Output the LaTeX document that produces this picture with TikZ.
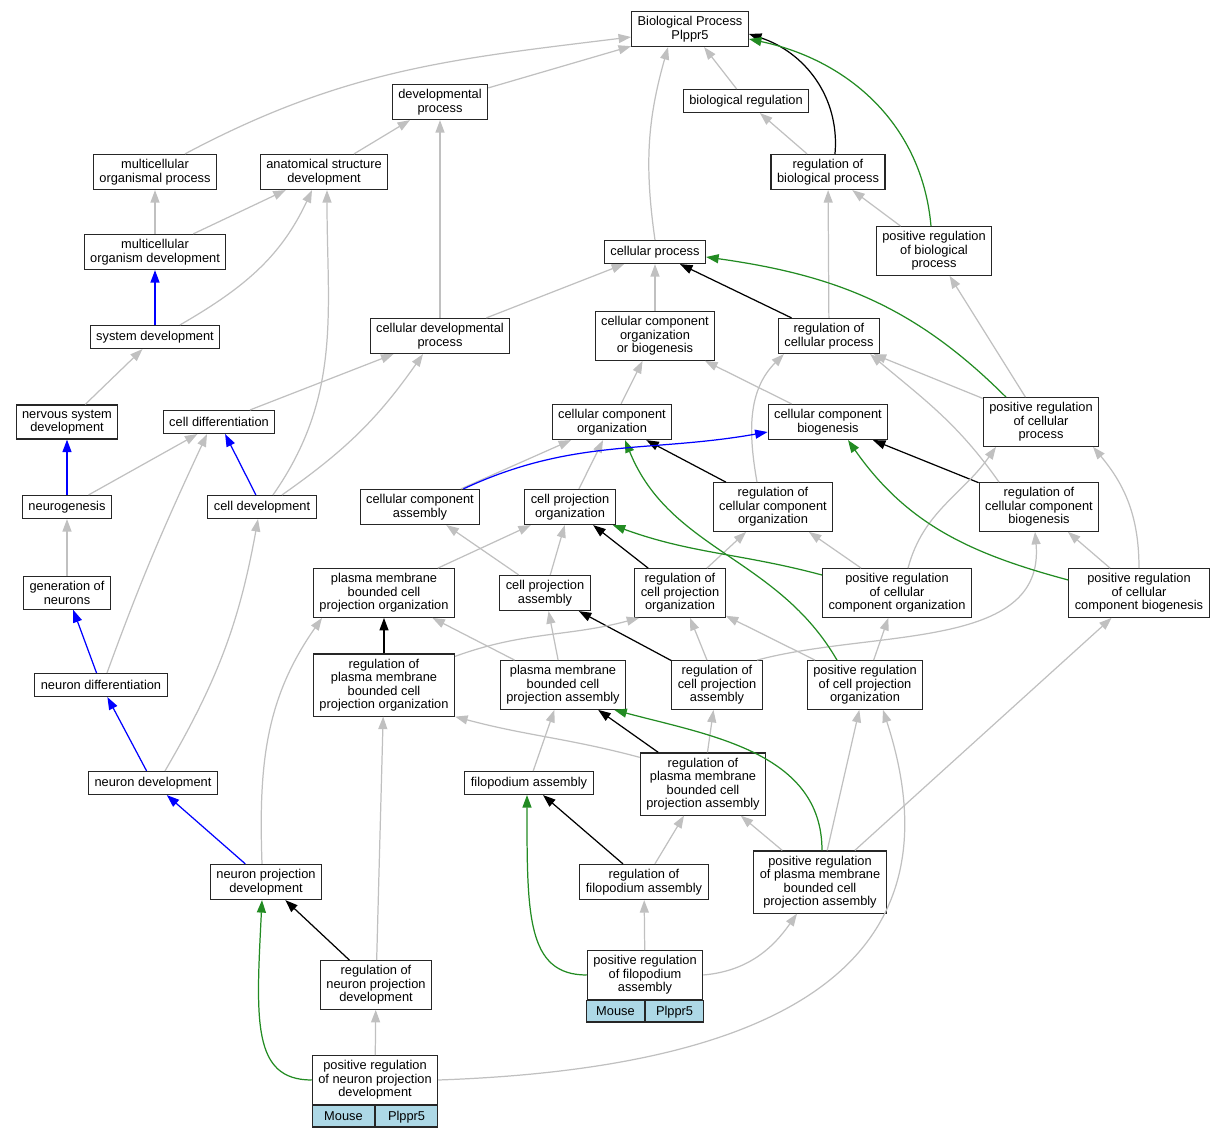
\documentclass[tikz,border=0pt]{standalone}
\usepackage{fontspec}
\setmainfont{Liberation Sans}
\usetikzlibrary{arrows.meta}
\definecolor{edgegray}{RGB}{192,192,192}
\definecolor{posgreen}{RGB}{34,139,34}
\definecolor{genefill}{RGB}{173,216,230}
\newcommand{\nodefont}{\fontsize{7.3}{7.7}\selectfont}

\begin{document}
\begin{tikzpicture}
		[x=0.02cm,y=0.02cm,every node/.style={rectangle,draw=black!85,line width=0.65pt,fill=white,align=center,inner xsep=0.12cm,inner ysep=0.096cm,minimum height=0.46cm,font=\nodefont},
		edge/.style={->,> = {Triangle[length=0.25cm,width=0.18cm]},line width=0.7pt},isa/.style={edge,edgegray},reg/.style={edge,black},posreg/.style={edge,posgreen},partof/.style={edge,blue},
		gene/.style={fill=genefill,minimum height=0.43cm,inner sep=0pt,text height=0.72em,text depth=0.21em}]
		\useasboundingbox (0,0) rectangle (1225,-1139);
		\node (bp) at (690,-29)  {Biological Process\\Plppr5};
		\node (dev) at (440,-102)  {developmental\\process};
		\node (breg) at (746,-101) {biological regulation};
		\node (mop) at (155,-172)  {multicellular\\organismal process};
		\node (asd) at (324,-172)  {anatomical structure\\development};
		\node (rbp) at (828,-172)  {regulation of\\biological process};
		\node (mod) at (155,-252)  {multicellular\\organism development};
		\node (cp) at (655,-252)  {cellular process};
		\node (prbp) at (934,-251)  {positive regulation\\of biological\\process};
		\node (sd) at (155,-337)  {system development};
		\node (cdp) at (440,-336)  {cellular developmental\\process};
		\node (ccob) at (655,-336)  {cellular component\\organization\\or biogenesis};
		\node (rcp) at (829,-336)  {regulation of\\cellular process};
		\node (nsd) at (67,-422)  {nervous system\\development};
		\node (cd) at (219,-422)  {cell differentiation};
		\node (ccorg) at (612,-422)  {cellular component\\organization};
		\node (ccbio) at (828,-422)  {cellular component\\biogenesis};
		\node (prcp) at (1041,-422)  {positive regulation\\of cellular\\process};
		\node (neurog) at (67,-507)  {neurogenesis};
		\node (cdev) at (262,-507)  {cell development};
		\node (cca) at (420,-507)  {cellular component\\assembly};
		\node (cpo) at (570,-507)  {cell projection\\organization};
		\node (rcco) at (773,-507)  {regulation of\\cellular component\\organization};
		\node (rccb) at (1039,-507)  {regulation of\\cellular component\\biogenesis};
		\node (gen) at (67,-593)  {generation of\\neurons};
		\node (pmo) at (384,-593)  {plasma membrane\\bounded cell\\projection organization};
		\node (cpa) at (545,-593)  {cell projection\\assembly};
		\node (rcpo) at (680,-593)  {regulation of\\cell projection\\organization};
		\node (prcco) at (897,-593)  {positive regulation\\of cellular\\component organization};
		\node (prccb) at (1139,-593)  {positive regulation\\of cellular\\component biogenesis};
		\node (ndiff) at (101,-685)  {neuron differentiation};
		\node (rpmo) at (384,-685)  {regulation of\\plasma membrane\\bounded cell\\projection organization};
		\node (pmpa) at (563,-685)  {plasma membrane\\bounded cell\\projection assembly};
		\node (rcpa) at (717,-685)  {regulation of\\cell projection\\assembly};
		\node (prcpo) at (865,-685)  {positive regulation\\of cell projection\\organization};
		\node (ndev) at (153,-783)  {neuron development};
		\node (filo) at (529,-783)  {filopodium assembly};
		\node (rpmpa) at (703,-784)  {regulation of\\plasma membrane\\bounded cell\\projection assembly};
		\node (npd) at (266,-882)  {neuron projection\\development};
		\node (rfa) at (644,-882)  {regulation of\\filopodium assembly};
		\node (prpmpa) at (820,-882)  {positive regulation\\of plasma membrane\\bounded cell\\projection assembly};
		\node (rnpd) at (376,-985)  {regulation of\\neuron projection\\development};
		\node (pfa) at (645,-975)  {positive regulation\\of filopodium\\assembly};
		\node[gene,minimum width=1.16cm,anchor=north east] (pfam) at (pfa.south) {Mouse};
		\node[gene,minimum width=1.16cm,anchor=north west] (pfag) at (pfa.south) {Plppr5};
		\node (pnpd) at (375,-1080)  {positive regulation\\of neuron projection\\development};
		\node[gene,minimum width=1.24cm,anchor=north east] (pnpdm) at (pnpd.south) {Mouse};
		\node[gene,minimum width=1.24cm,anchor=north west] (pnpdg) at (pnpd.south) {Plppr5};
		
		\foreach \from/\to in {dev/bp,breg/bp,asd/dev,cdp/dev,rbp/breg,prbp/rbp,mod/mop,mod/asd,cdp/cp,ccob/cp,rcp/rbp,prcp/prbp,
			nsd/sd,cd/cdp,ccorg/ccob,ccbio/ccob,prcp/rcp,neurog/cd,cca/ccorg,cpo/ccorg,prccb/rccb,gen/neurog,cpa/cca,pmo/cpo,cpa/cpo,
			rcpo/rcco,prcco/rcco,pmpa/pmo,pmpa/cpa,rcpa/rcpo,prcpo/rcpo,prcpo/prcco,filo/pmpa,rpmpa/rcpa,prpmpa/prcpo,prpmpa/prccb,
			rfa/rpmpa,prpmpa/rpmpa,rnpd/rpmo,pfa/rfa,pnpd/rnpd}
		\draw[isa] (\from) -- (\to);
		\foreach \from/\to in {rcp/cp,rcco/ccorg,rccb/ccbio,rpmo/pmo,rcpo/cpo,rcpa/cpa,rpmpa/pmpa,rfa/filo,rnpd/npd}
		\draw[reg] (\from) -- (\to);
		\foreach \from/\to in {sd/mod,neurog/nsd,cdev/cd,ndiff/gen,ndev/ndiff,npd/ndev}
		\draw[partof] (\from) -- (\to);
		
		% curved is_a
		\draw[isa] ([xshift=0.6cm]mop.north) to[out=28,in=187] ([yshift=-0.16cm]bp.west);
		\draw[isa] (cp.north) to[bend left=12] ([xshift=-0.44cm]bp.south);
		\draw[isa] ([xshift=0.5cm]sd.north) to[out=30,in=-115] ([xshift=-0.24cm]asd.south);
		\draw[isa] ([xshift=0.22cm]cdev.north) to[out=55,in=-90] ([xshift=0.06cm]asd.south);
		\draw[isa] ([xshift=0.4cm]cdev.north) to[bend right=10] ([xshift=-0.34cm]cdp.south);
		\draw[isa] ([xshift=-0.32cm]rcco.north) to[out=100,in=-135] ([xshift=0.12cm]rcp.south west);
		\draw[isa] ([xshift=-0.8cm]rccb.north) to[out=125,in=-40] ([xshift=-0.2cm]rcp.south east);
		\draw[isa] ([xshift=0.22cm]prcco.north) to[out=75,in=-125] ([xshift=-0.9cm]prcp.south);
		\draw[isa] (prccb.north) to[out=90,in=-50] ([xshift=1.04cm]prcp.south);
		\draw[isa] ([xshift=0.8cm]rcpa.north) to[out=15,in=-85] ([xshift=-0.08cm]rccb.south);
		\draw[isa] ([xshift=0.12cm]ndiff.north) to[out=70,in=-115] ([xshift=-0.24cm]cd.south);
		\draw[isa] ([xshift=0.24cm]ndev.north) to[bend right=10] ([xshift=-0.08cm]cdev.south);
		\draw[isa] ([yshift=-0.06cm]rpmo.north east) to[out=20,in=195] ([xshift=0.1cm]rcpo.south west);
		\draw[isa] ([xshift=-0.08cm]npd.north) to[out=92,in=-125] ([xshift=-1.24cm]pmo.south);
		\draw[isa] ([yshift=-0.1cm]rpmpa.north west) to[out=165,in=-15] (rpmo.south east);
		\draw[isa] (pfa.east) to[out=5,in=-125] ([xshift=-0.46cm]prpmpa.south);
		\draw[isa] (pnpd.east) to[out=2,in=-72,looseness=1.3] ([xshift=0.36cm]prcpo.south);
		
		% curved regulation
		\draw[reg] ([xshift=0.14cm]rbp.north) to[out=85,in=-18] ([yshift=-0.1cm]bp.east);
		\draw[posreg] ([xshift=-0.06cm]prbp.north) to[out=95,in=-12] ([yshift=-0.2cm]bp.east);
		\draw[posreg] ([xshift=-0.7cm]prcp.north) to[out=135,in=-8] ([yshift=-0.1cm]cp.east);
		\draw[posreg] ([yshift=0.26cm]prccb.west) to[out=165,in=-55] ([xshift=0.4cm]ccbio.south);
		\draw[posreg] ([yshift=0.36cm]prcco.west) to[out=165,in=-20] ([xshift=-0.06cm]cpo.south east);
		\draw[posreg] ([xshift=-0.56cm]prcpo.north) to[out=120,in=-68] ([xshift=0.26cm]ccorg.south);
		\draw[posreg] ([xshift=0.04cm]prpmpa.north) to[out=90,in=-15] ([xshift=-0.24cm]pmpa.south east);
		\draw[posreg] (pfa.west) .. controls +(-60,0) and +(0,-120) .. ([xshift=-0.04cm]filo.south);
		\draw[posreg] (pnpd.west) .. controls +(-60,0) and +(-6,-120) .. ([xshift=-0.08cm]npd.south);
		
		% curved part_of
		\draw[partof] ([xshift=-0.34cm]cca.north east) to[out=25,in=190] ([yshift=-0.2cm]ccbio.west);
		\end{tikzpicture}
\end{document}
